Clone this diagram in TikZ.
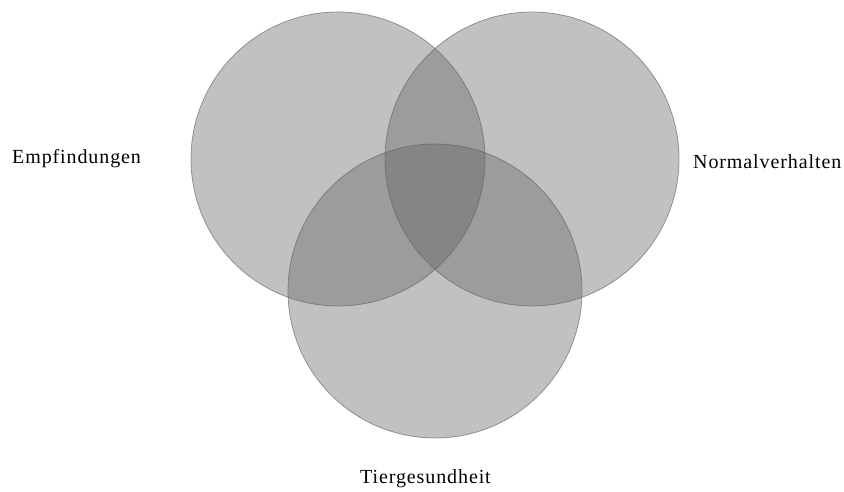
\documentclass[tikz,border=0pt]{standalone}
\usepackage{fontspec}
\setmainfont{Liberation Serif}
\usepackage{xcolor}
\usetikzlibrary{positioning}
\definecolor{setfill}{RGB}{100,100,100}
\definecolor{setline}{RGB}{95,95,95}

\begin{document}
\begin{tikzpicture}[x=1pt, y=-1pt,
  set/.style={circle, draw=setline, line width=0.8pt, draw opacity=0.6,
              fill=setfill, fill opacity=0.4, minimum size=294pt, inner sep=0pt},
  lab/.style={font=\fontsize{20}{24}\selectfont\addfontfeature{LetterSpace=4.5},
              anchor=base west, inner sep=0pt, text=black}]
\useasboundingbox (0,0) rectangle (844,491);
\node[set] (emp) at (338,159) {};
\node[set] (norm) at (532,159) {};
\node[set] (tier) at (435,291) {};

\node[lab] (lemp) at (12,163) {Empfindungen};
\node[lab] (lnorm) at (693,168) {Normalverhalten};
\node[lab] (ltier) at (360,483) {Tiergesundheit};
\end{tikzpicture}
\end{document}
